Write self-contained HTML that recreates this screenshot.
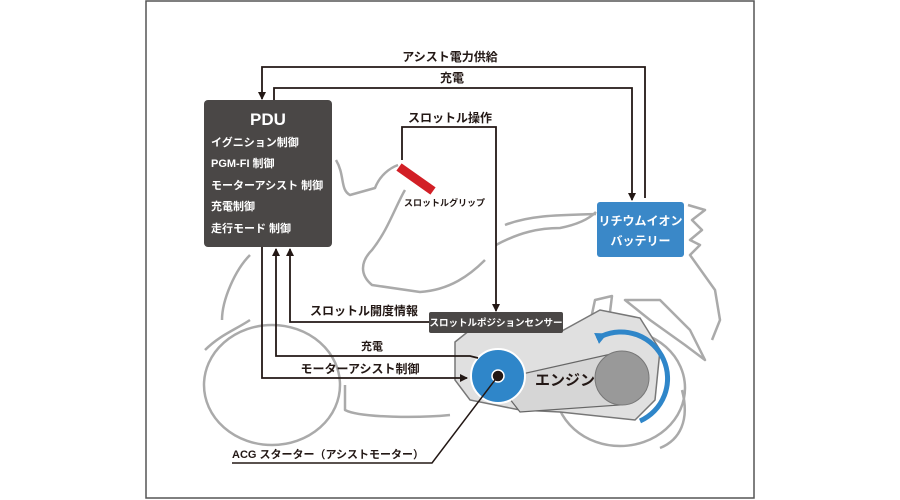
<!DOCTYPE html>
<html><head><meta charset="utf-8"><style>
html,body{margin:0;padding:0;background:#fff;}
svg{display:block;}
text{font-family:"Liberation Sans","Noto Sans CJK JP",sans-serif;font-weight:bold;}
</style></head><body>
<svg width="900" height="500" viewBox="0 0 900 500" xmlns="http://www.w3.org/2000/svg">
<defs>
<marker id="ah" markerWidth="8" markerHeight="8" refX="7" refY="4" orient="auto" markerUnits="userSpaceOnUse"><path d="M0,0 L8,4 L0,8 z" fill="#231815"/></marker>
<marker id="bh" markerWidth="12" markerHeight="12" refX="6" refY="6" orient="auto" markerUnits="userSpaceOnUse"><path d="M0,0 L12,6 L0,12 z" fill="#2f86c9"/></marker>
</defs>
<rect x="146" y="1" width="608" height="497" fill="#fff" stroke="#555" stroke-width="1.5"/>
<g fill="none" stroke="#aaa" stroke-width="2.5" stroke-linejoin="round">
<ellipse cx="272" cy="385" rx="68" ry="60"/>
<ellipse cx="620" cy="388" rx="65" ry="58"/>
<path d="M336,160 C345,175 340,190 350,195 L375,188 C380,175 390,168 398,165"/>
<path d="M405,190 C396,205 388,230 372,250 C360,262 360,275 372,285 L420,292 C450,290 470,275 485,260"/>
<path d="M250,255 C235,270 222,300 222,320"/>
<path d="M205,350 C220,335 235,330 250,320"/>
<path d="M496,245 C520,232 540,228 560,228 C580,224 590,218 596,212"/>
<path d="M505,225 C530,215 560,215 596,214"/>
<path d="M688,205 L705,210 L692,220 L702,230 L690,240 L700,245 L690,255 L715,290 L720,320 L712,340"/>
<path d="M625,300 L660,300 L690,330 L705,360 L685,345 L650,320 Z"/>
<path d="M595,300 L612,296 L610,312 L592,314 Z"/>
<path d="M345,385 L345,410 C360,418 420,418 450,415"/>
<path d="M682,390 C690,420 680,440 660,448"/>
</g>
<path d="M455,342 L470,330 L560,332 L600,310 L640,318 L660,350 L655,400 L635,420 L560,412 L520,410 L470,400 L455,380 Z" fill="#e0e0e0" stroke="#777" stroke-width="1.5"/>
<path d="M495,380 L620,352 L620,405 L520,412 Z" fill="#d6d6d6" stroke="#666" stroke-width="1.2"/>
<circle cx="622" cy="378" r="27" fill="#999" stroke="#777" stroke-width="1"/>
<path d="M602,336 A46,46 0 1 1 640,421" fill="none" stroke="#2f86c9" stroke-width="5" marker-start="url(#bh)"/>
<text x="535" y="385" font-size="15" fill="#231815">エンジン</text>
<circle cx="498" cy="376" r="27" fill="#2f86c9" stroke="#fff" stroke-width="2"/>
<circle cx="498" cy="376" r="6" fill="#231815" stroke="#fff" stroke-width="1.5"/>
<path d="M498,376 L432,463 L232,463" fill="none" stroke="#231815" stroke-width="1.5"/>
<text x="232" y="458" font-size="11" fill="#231815">ACG スターター（アシストモーター）</text>
<g fill="none" stroke="#231815" stroke-width="1.8">
<path d="M645,198 L645,67 L262,67 L262,99" marker-end="url(#ah)"/>
<path d="M274,100 L274,88 L632,88 L632,200" marker-end="url(#ah)"/>
<path d="M402,160 L402,127 L496,127 L496,311" marker-end="url(#ah)"/>
<path d="M429,322 L290,322 L290,249" marker-end="url(#ah)"/>
<path d="M478,358 L470,356 L276,356 L276,249" marker-end="url(#ah)"/>
<path d="M262,247 L262,378 L467,378" marker-end="url(#ah)"/>
</g>
<text x="450" y="61" font-size="12" fill="#231815" text-anchor="middle">アシスト電力供給</text>
<text x="452" y="82" font-size="12" fill="#231815" text-anchor="middle">充電</text>
<text x="450" y="122" font-size="12" fill="#231815" text-anchor="middle">スロットル操作</text>
<text x="364" y="315" font-size="12" fill="#231815" text-anchor="middle">スロットル開度情報</text>
<text x="372" y="350" font-size="11" fill="#231815" text-anchor="middle">充電</text>
<text x="360" y="373" font-size="12" fill="#231815" text-anchor="middle">モーターアシスト制御</text>
<line x1="399" y1="167" x2="433" y2="191" stroke="#d21f26" stroke-width="9"/>
<text x="404" y="206" font-size="9" fill="#231815">スロットルグリップ</text>
<rect x="204" y="100" width="128" height="147" rx="4" fill="#4a4746"/>
<text x="268" y="125" font-size="17" fill="#fff" text-anchor="middle">PDU</text>
<g font-size="11" fill="#fff">
<text x="211" y="146">イグニション制御</text>
<text x="211" y="167">PGM-FI 制御</text>
<text x="211" y="189">モーターアシスト 制御</text>
<text x="211" y="210">充電制御</text>
<text x="211" y="232">走行モード 制御</text>
</g>
<rect x="597" y="202" width="87" height="55" rx="3" fill="#3a88c8"/>
<text x="640.5" y="225" font-size="12" fill="#fff" text-anchor="middle">リチウムイオン</text>
<text x="640.5" y="245" font-size="12" fill="#fff" text-anchor="middle">バッテリー</text>
<rect x="429" y="312" width="134" height="21" rx="2" fill="#4a4746"/>
<text x="496" y="326" font-size="9.5" fill="#fff" text-anchor="middle">スロットルポジションセンサー</text>
</svg>
</body></html>
